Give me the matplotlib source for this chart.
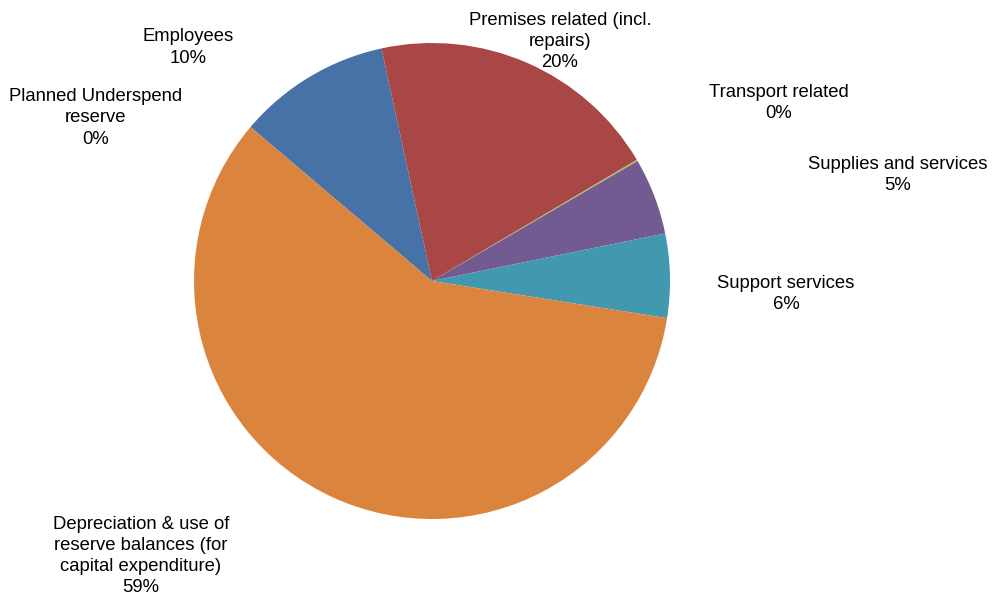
import matplotlib
matplotlib.use("Agg")
import matplotlib.pyplot as plt

# Budget breakdown (share of total, %)
categories = [
    "Employees",
    "Premises related (incl.\nrepairs)",
    "Transport related",
    "Supplies and services",
    "Support services",
    "Depreciation & use of\nreserve balances (for\ncapital expenditure)",
    "Planned Underspend\nreserve",
]
shares = [10.4, 19.9, 0.1, 5.2, 5.7, 58.7, 0.0]
colors = ["#4672A8", "#A84745", "#9BBB59", "#735A91", "#4298AF", "#DA843D", "#2C4D75"]

# Label anchor points (pixel x, pixel y from top) for each category
label_pos = [
    (188, 47.5),
    (560, 41.5),
    (779, 103),
    (898, 175),
    (786, 294),
    (141, 556),
    (96, 118),
]

W, H = 992, 596
fig = plt.figure(figsize=(W / 100, H / 100), dpi=100)
ax = fig.add_axes([0, 0, 1, 1])

total = sum(shares)
ax.pie(
    shares,
    colors=colors,
    startangle=139.7,
    counterclock=False,
    center=(432, H - 281),
    radius=238,
    wedgeprops=dict(linewidth=0),
)

for name, val, (px, py) in zip(categories, shares, label_pos):
    pct = val / total * 100
    ax.text(
        px, H - py, f"{name}\n{pct:.0f}%",
        ha="center", va="center", multialignment="center",
        fontsize=13.3, family="Liberation Sans", color="#000000",
        linespacing=1.31,
    )

ax.set_xlim(0, W)
ax.set_ylim(0, H)
ax.set_aspect("auto")
ax.axis("off")

fig.savefig("out.png", dpi=100, facecolor="white")
